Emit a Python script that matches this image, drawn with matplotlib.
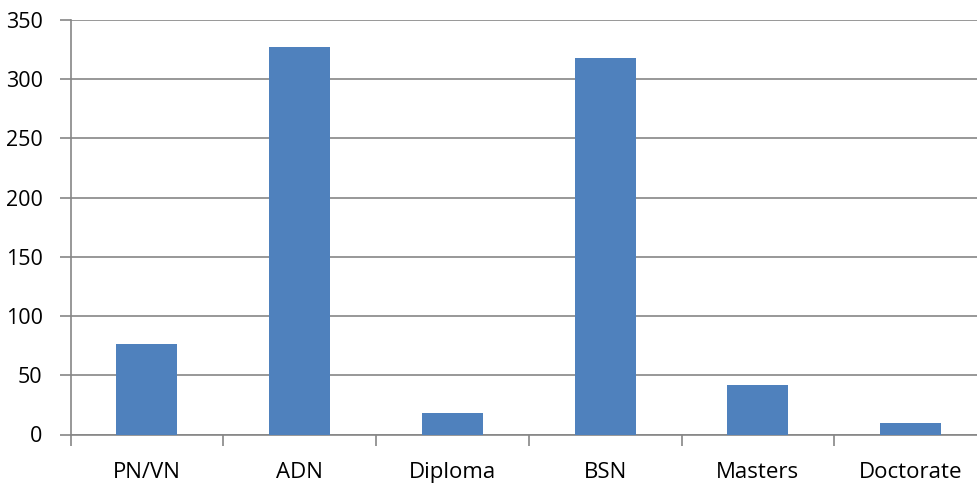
import matplotlib
matplotlib.use("Agg")
import matplotlib.pyplot as plt
import numpy as np

categories = ["PN/VN", "ADN", "Diploma", "BSN", "Masters", "Doctorate"]
values = [76, 327, 18, 318, 42, 10]
y_ticks = [0, 50, 100, 150, 200, 250, 300, 350]

plt.rcParams["font.family"] = ["Open Sans", "DejaVu Sans"]

fig = plt.figure(figsize=(9.77, 4.83), dpi=100)
W, H = 977, 483
left, right = 70.5, 987.0
top, bottom = 20.0, 434.5
ax = fig.add_axes([left / W, 1 - bottom / H, (right - left) / W, (bottom - top) / H])

x = np.arange(len(categories))
ax.bar(x, values, width=0.4, color="#4F81BD", zorder=3)

grid_c = "#868686"
ax.set_xlim(-0.5, len(categories) - 0.5)
ax.set_ylim(0, 350)
ax.set_yticks(y_ticks)
ax.yaxis.grid(True, color=grid_c, linewidth=1.2, zorder=0)

ax.set_xticks(x)
ax.set_xticklabels(categories, fontsize=16)
ax.set_xticks(np.arange(len(categories) + 1) - 0.5, minor=True)
ax.tick_params(axis="x", which="major", length=0, pad=20)
ax.tick_params(axis="x", which="minor", length=8, width=1.2, color=grid_c, direction="out")
ax.tick_params(axis="y", length=8, width=1.2, color=grid_c, labelsize=15.5, pad=12)

for s in ["top", "right"]:
    ax.spines[s].set_visible(False)
for s in ["left", "bottom"]:
    ax.spines[s].set_color(grid_c)
    ax.spines[s].set_linewidth(1.2)

fig.savefig("out.png", dpi=100, facecolor="white")
